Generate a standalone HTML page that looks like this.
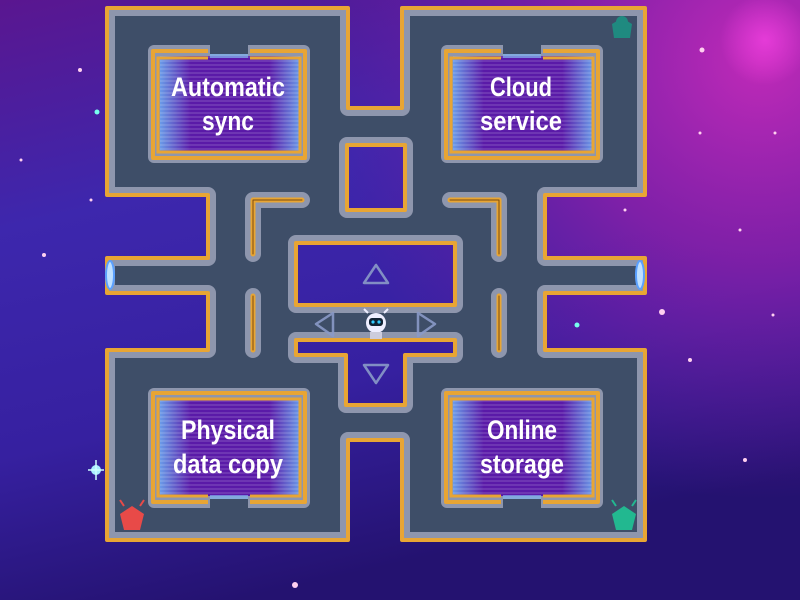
<!DOCTYPE html>
<html><head><meta charset="utf-8"><style>
html,body{margin:0;padding:0;width:800px;height:600px;overflow:hidden;background:#3a22a0}
svg{display:block}
</style></head><body>
<svg width="800" height="600" viewBox="0 0 800 600" xmlns="http://www.w3.org/2000/svg">
<defs>
<linearGradient id="bg" x1="0" y1="0" x2="0.3" y2="1">
<stop offset="0" stop-color="#5a1690"/>
<stop offset="0.35" stop-color="#3d27ad"/>
<stop offset="0.7" stop-color="#3620a0"/>
<stop offset="1" stop-color="#241270"/>
</linearGradient>
<radialGradient id="mag" cx="760" cy="60" r="440" gradientUnits="userSpaceOnUse">
<stop offset="0" stop-color="#c02ab8"/>
<stop offset="0.45" stop-color="#8a1fa8" stop-opacity="0.85"/>
<stop offset="1" stop-color="#6a1aa0" stop-opacity="0"/>
</radialGradient>
<radialGradient id="glow" cx="0.5" cy="0.5" r="0.5">
<stop offset="0" stop-color="#f040e0" stop-opacity="0.8"/>
<stop offset="1" stop-color="#f040e0" stop-opacity="0"/>
</radialGradient>
<linearGradient id="scr" x1="0" y1="0" x2="1" y2="0">
<stop offset="0" stop-color="#6a9ae8"/>
<stop offset="0.22" stop-color="#5a1aa8"/>
<stop offset="0.78" stop-color="#5a1aa8"/>
<stop offset="1" stop-color="#6a9ae8"/>
</linearGradient>
<pattern id="lines" width="4" height="4" patternUnits="userSpaceOnUse">
<rect width="4" height="2" fill="#ffffff" opacity="0.12"/>
</pattern>
<clipPath id="floorclip"><path clip-rule="evenodd" d="M107,8 H348 V108 H402 V8 H645 V195 H545 V258 H645 V293 H545 V350 H645 V540 H402 V440 H348 V540 H107 V350 H208 V293 H107 V258 H208 V195 H107 Z M347,145 H405 V210 H347 Z M296,243 H455 V305 H296 Z M296,340 H455 V355 H405 V405 H346 V355 H296 Z"/></clipPath>
</defs>
<rect width="800" height="600" fill="url(#bg)"/>
<rect width="800" height="600" fill="url(#mag)"/>
<circle cx="765" cy="40" r="45" fill="url(#glow)"/>
<g fill="#ffd0f0">
<circle cx="702" cy="50" r="2.5"/><circle cx="80" cy="70" r="2"/><circle cx="97" cy="112" r="2.5" fill="#7fe"/>
<circle cx="21" cy="160" r="1.5"/><circle cx="91" cy="200" r="1.5"/><circle cx="44" cy="255" r="2"/>
<circle cx="96" cy="470" r="5" fill="#aef"/><circle cx="662" cy="312" r="3"/><circle cx="577" cy="325" r="2.5" fill="#7fe"/>
<circle cx="773" cy="315" r="1.5"/><circle cx="700" cy="133" r="1.5"/><circle cx="775" cy="133" r="1.5"/>
<circle cx="690" cy="360" r="2"/><circle cx="745" cy="460" r="2"/><circle cx="295" cy="585" r="3"/>
<circle cx="740" cy="230" r="1.5"/><circle cx="625" cy="210" r="1.5"/>
</g>
<path d="M88,470 H104 M96,460 V480" stroke="#cff" stroke-width="1.5"/>
<path d="M107,8 H348 V108 H402 V8 H645 V195 H545 V258 H645 V293 H545 V350 H645 V540 H402 V440 H348 V540 H107 V350 H208 V293 H107 V258 H208 V195 H107 Z M347,145 H405 V210 H347 Z M296,243 H455 V305 H296 Z M296,340 H455 V355 H405 V405 H346 V355 H296 Z" fill="#3e4e68" fill-rule="evenodd"/>
<g clip-path="url(#floorclip)">
<path d="M107,8 H348 V108 H402 V8 H645 V195 H545 V258 H645 V293 H545 V350 H645 V540 H402 V440 H348 V540 H107 V350 H208 V293 H107 V258 H208 V195 H107 Z M347,145 H405 V210 H347 Z M296,243 H455 V305 H296 Z M296,340 H455 V355 H405 V405 H346 V355 H296 Z" fill="none" stroke="#8e96ad" stroke-width="16" stroke-linejoin="round"/>
</g>
<path d="M107,8 H348 V108 H402 V8 H645 V195 H545 V258 H645 V293 H545 V350 H645 V540 H402 V440 H348 V540 H107 V350 H208 V293 H107 V258 H208 V195 H107 Z M347,145 H405 V210 H347 Z M296,243 H455 V305 H296 Z M296,340 H455 V355 H405 V405 H346 V355 H296 Z" fill="none" stroke="#e8a534" stroke-width="4" stroke-linejoin="round"/>
<g fill="none" stroke-linecap="round" stroke-linejoin="round">
<path d="M302,200 H253 V254 M450,200 H499 V254 M253,296 V350 M499,296 V350" stroke="#8e96ad" stroke-width="16"/>
<path d="M302,200 H253 V254 M450,200 H499 V254 M253,296 V350 M499,296 V350" stroke="#e8a534" stroke-width="5"/>
<path d="M302,200 H253 V254 M450,200 H499 V254 M253,296 V350 M499,296 V350" stroke="#7a4a10" stroke-width="1"/>
</g>
<g>
<g>
<rect x="148" y="45" width="162" height="118" rx="6" fill="#8e96ad"/>
<rect x="160" y="56" width="140" height="96" fill="url(#scr)"/><rect x="160" y="56" width="140" height="96" fill="url(#lines)"/>
<path d="M208,51 H153 V158 H305 V51 H250" fill="none" stroke="#e8a534" stroke-width="4" stroke-linejoin="round"/>
<path d="M208,58 H158 V152 H300 V58 H250" fill="none" stroke="#e8a534" stroke-width="3"/>
</g>
<g>
<rect x="441" y="45" width="162" height="118" rx="6" fill="#8e96ad"/>
<rect x="453" y="56" width="140" height="96" fill="url(#scr)"/><rect x="453" y="56" width="140" height="96" fill="url(#lines)"/>
<path d="M501,51 H446 V158 H598 V51 H543" fill="none" stroke="#e8a534" stroke-width="4" stroke-linejoin="round"/>
<path d="M501,58 H451 V152 H593 V58 H543" fill="none" stroke="#e8a534" stroke-width="3"/>
</g>
<g>
<rect x="148" y="388" width="162" height="120" rx="6" fill="#8e96ad"/>
<rect x="160" y="400" width="140" height="96" fill="url(#scr)"/><rect x="160" y="400" width="140" height="96" fill="url(#lines)"/>
<path d="M208,502 H153 V393 H305 V502 H250" fill="none" stroke="#e8a534" stroke-width="4" stroke-linejoin="round"/>
<path d="M208,496 H158 V399 H300 V496 H250" fill="none" stroke="#e8a534" stroke-width="3"/>
</g>
<g>
<rect x="441" y="388" width="162" height="120" rx="6" fill="#8e96ad"/>
<rect x="453" y="400" width="140" height="96" fill="url(#scr)"/><rect x="453" y="400" width="140" height="96" fill="url(#lines)"/>
<path d="M501,502 H446 V393 H598 V502 H543" fill="none" stroke="#e8a534" stroke-width="4" stroke-linejoin="round"/>
<path d="M501,496 H451 V399 H593 V496 H543" fill="none" stroke="#e8a534" stroke-width="3"/>
</g>
</g>
<g fill="#3e4e68">
<rect x="210" y="44" width="38" height="10"/><rect x="503" y="44" width="38" height="10"/>
<rect x="210" y="499" width="38" height="10"/><rect x="503" y="499" width="38" height="10"/>
</g>
<g fill="#7fb0f0" opacity="0.7">
<rect x="210" y="54" width="38" height="4"/><rect x="503" y="54" width="38" height="4"/>
<rect x="210" y="495" width="38" height="4"/><rect x="503" y="495" width="38" height="4"/>
</g>
<g font-family="Liberation Sans, sans-serif" font-weight="bold" font-size="27" fill="#fff" text-anchor="middle">
<text x="228" y="96" textLength="114" lengthAdjust="spacingAndGlyphs">Automatic</text>
<text x="228" y="130" textLength="52" lengthAdjust="spacingAndGlyphs">sync</text>
<text x="521" y="96" textLength="62" lengthAdjust="spacingAndGlyphs">Cloud</text>
<text x="521" y="130" textLength="82" lengthAdjust="spacingAndGlyphs">service</text>
<text x="228" y="439" textLength="94" lengthAdjust="spacingAndGlyphs">Physical</text>
<text x="228" y="473" textLength="110" lengthAdjust="spacingAndGlyphs">data copy</text>
<text x="522" y="439" textLength="70" lengthAdjust="spacingAndGlyphs">Online</text>
<text x="522" y="473" textLength="84" lengthAdjust="spacingAndGlyphs">storage</text>
</g>
<g fill="none" stroke="#8a9ac8" stroke-width="2.5" stroke-linejoin="round" opacity="0.9">
<path d="M376,265 L364,283 H388 Z"/>
<path d="M364,365 H388 L376,383 Z"/>
<path d="M333,313 L316,324 L333,336 Z"/>
<path d="M418,313 L435,324 L418,336 Z"/>
</g>
<g>
<circle cx="376" cy="323" r="10" fill="#eef"/>
<rect x="369" y="318" width="14" height="8" rx="3" fill="#123"/>
<circle cx="373" cy="322" r="1.6" fill="#3cf"/><circle cx="379" cy="322" r="1.6" fill="#3cf"/>
<path d="M368,313 L364,309 M384,313 L388,309" stroke="#eef" stroke-width="2"/>
<rect x="370" y="332" width="12" height="7" fill="#ccd"/>
</g>
<ellipse cx="110" cy="275" rx="4" ry="14" fill="#bfe0ff" stroke="#5aa0ff" stroke-width="2"/>
<ellipse cx="640" cy="275" rx="4" ry="14" fill="#bfe0ff" stroke="#5aa0ff" stroke-width="2"/>
<g fill="#1f8a80"><path d="M612,24 L622,18 L632,24 L630,38 L614,38 Z"/><circle cx="622" cy="22" r="6"/></g>
<g fill="#e84a48"><path d="M120,514 L132,506 L144,514 L140,530 L124,530 Z"/><path d="M124,506 L120,500 M140,506 L144,500" stroke="#e84a48" stroke-width="2"/></g>
<g fill="#22b890"><path d="M612,514 L624,506 L636,514 L632,530 L616,530 Z"/><path d="M616,506 L612,500 M632,506 L636,500" stroke="#22b890" stroke-width="2"/></g>
</svg>
</body></html>
